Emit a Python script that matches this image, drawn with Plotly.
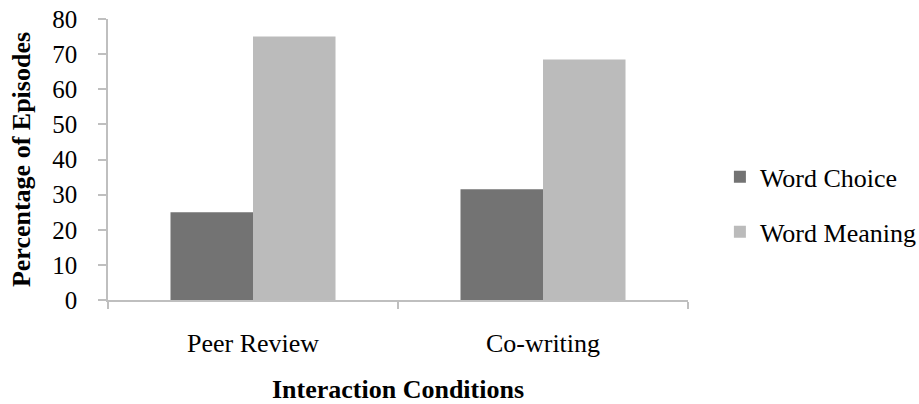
import plotly.graph_objects as go

# Episode shares by interaction condition
conditions = ["Peer Review", "Co-writing"]
word_choice = [25, 31.5]
word_meaning = [75, 68.5]
y_ticks = [0, 10, 20, 30, 40, 50, 60, 70, 80]

SERIF = "Liberation Serif, Times New Roman, serif"
AXIS_GRAY = "#bfbfbf"

fig = go.Figure()
fig.add_trace(go.Bar(
    x=conditions, y=word_choice, name="Word Choice",
    marker=dict(color="#737373", line=dict(width=0)),
    legendgroup="choice",
))
fig.add_trace(go.Bar(
    x=conditions, y=word_meaning, name="Word Meaning",
    marker=dict(color="#bbbbbb", line=dict(width=0)),
    legendgroup="meaning",
))

fig.update_layout(
    width=919, height=404,
    margin=dict(l=108, r=231, t=19, b=104, autoexpand=False),
    paper_bgcolor="white", plot_bgcolor="white",
    barmode="group", bargap=0.431, bargroupgap=0,
    font=dict(family=SERIF, color="black", size=24),
    legend=dict(
        x=1.055, xanchor="left", y=0.34, yanchor="middle",
        font=dict(family=SERIF, size=26, color="black"),
        tracegroupgap=18, traceorder="grouped",
        bgcolor="rgba(0,0,0,0)",
    ),
    showlegend=True,
)

fig.update_xaxes(
    automargin=False,
    showline=True, linecolor=AXIS_GRAY, linewidth=1.5,
    ticks="outside", tickson="boundaries", ticklen=7,
    tickcolor=AXIS_GRAY, tickwidth=1.5,
    tickfont=dict(family=SERIF, size=26, color="black"),
    ticklabelstandoff=19,
    showgrid=False, zeroline=False,
    title=dict(text="<b>Interaction Conditions</b>",
               font=dict(family=SERIF, size=26, color="black"),
               standoff=28),
)
fig.update_yaxes(
    automargin=False,
    range=[0, 80], tickvals=y_ticks,
    showline=True, linecolor=AXIS_GRAY, linewidth=1.5,
    ticks="outside", ticklen=8, tickcolor=AXIS_GRAY, tickwidth=1.5,
    tickfont=dict(family=SERIF, size=25, color="black"),
    ticklabelstandoff=16,
    showgrid=False, zeroline=False,
    title=dict(text="<b>Percentage of Episodes</b>",
               font=dict(family=SERIF, size=26, color="black"),
               standoff=14),
)

fig.write_html("out.html")
